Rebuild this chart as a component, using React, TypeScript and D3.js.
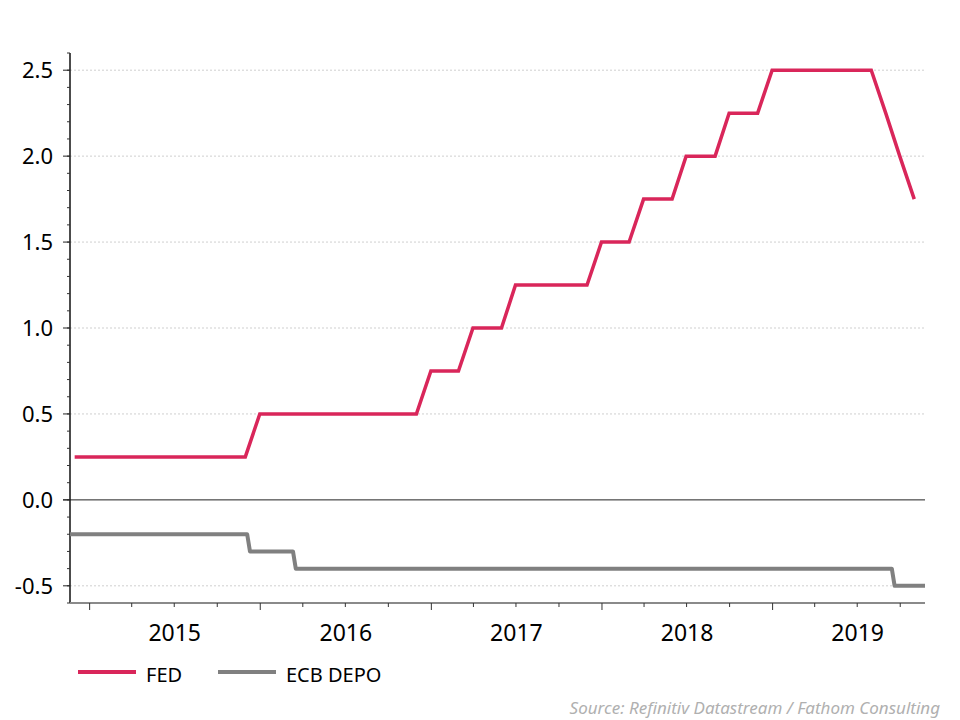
// Policy rates chart: FED vs ECB deposit rate
import React from 'react';
import * as d3 from 'd3';

const fedDates = [
  '2014-11-30', '2015-11-30', '2015-12-31', '2016-11-30', '2016-12-31',
  '2017-02-28', '2017-03-31', '2017-05-31', '2017-06-30', '2017-11-30',
  '2017-12-31', '2018-02-28', '2018-03-31', '2018-05-31', '2018-06-30',
  '2018-08-31', '2018-09-30', '2018-11-30', '2018-12-31', '2019-07-31',
  '2019-08-31', '2019-09-30', '2019-10-31',
];
const fedValues = [
  0.25, 0.25, 0.5, 0.5, 0.75,
  0.75, 1.0, 1.0, 1.25, 1.25,
  1.5, 1.5, 1.75, 1.75, 2.0,
  2.0, 2.25, 2.25, 2.5, 2.5,
  2.25, 2.0, 1.75,
];

const ecbDates = [
  '2014-11-20', '2015-12-04', '2015-12-10', '2016-03-11', '2016-03-17',
  '2019-09-13', '2019-09-19', '2019-11-23',
];
const ecbValues = [-0.2, -0.2, -0.3, -0.3, -0.4, -0.4, -0.5, -0.5];

const yTicks = [-0.5, 0, 0.5, 1.0, 1.5, 2.0, 2.5];
const yearLabels = ['2015', '2016', '2017', '2018', '2019'];

const FED_COLOR = '#d9265a';
const ECB_COLOR = '#808080';
const FONT = '"Noto Sans", "Open Sans", sans-serif';

const parse = d3.utcParse('%Y-%m-%d');

const App: React.FC = () => {
  const width = 960;
  const height = 720;
  const margin = { top: 53, right: 35, bottom: 117, left: 70 };

  const x = d3.scaleUtc()
    .domain([parse('2014-11-20')!, parse('2019-11-23')!])
    .range([margin.left, width - margin.right]);

  const y = d3.scaleLinear()
    .domain([-0.6, 2.6])
    .range([height - margin.bottom, margin.top]);

  const line = d3.line<[Date, number]>()
    .x((d) => x(d[0]))
    .y((d) => y(d[1]));

  const fed: [Date, number][] = fedDates.map((d, i) => [parse(d)!, fedValues[i]]);
  const ecb: [Date, number][] = ecbDates.map((d, i) => [parse(d)!, ecbValues[i]]);

  const [x0, x1] = x.range();
  const yBottom = y.range()[0];
  const yTop = y.range()[1];

  const minorY = d3.range(-6, 27).map((v) => v / 10);
  const quarters = d3.utcMonth.every(3)!.range(x.domain()[0], x.domain()[1]);

  return (
    <svg width={width} height={height} style={{ position: 'absolute', left: 0, top: 0 }}
      fontFamily={FONT}>
      <rect width={width} height={height} fill="white" />

      {/* grid */}
      {yTicks.filter((t) => t !== 0).map((t) => (
        <line key={'g' + t} x1={x0} x2={x1 - 1} y1={y(t)} y2={y(t)}
          stroke="#cfcfcf" strokeWidth={1} strokeDasharray="2,2" />
      ))}

      {/* zero line */}
      <line x1={x0 - 7} x2={x1} y1={y(0)} y2={y(0)} stroke="#222" strokeWidth={1} />

      {/* y axis */}
      <line x1={x0} x2={x0} y1={yTop} y2={yBottom} stroke="#111" strokeWidth={1.5} />
      {minorY.map((t) => (
        <line key={'m' + t} x1={x0 - 3} x2={x0} y1={y(t)} y2={y(t)} stroke="#333" strokeWidth={1} />
      ))}
      {yTicks.map((t) => (
        <g key={'y' + t}>
          <line x1={x0 - 7} x2={x0} y1={y(t)} y2={y(t)} stroke="#222" strokeWidth={1} />
          <text x={53} y={y(t)} dy="0.36em" textAnchor="end" fontSize={22} fill="#000">
            {t.toFixed(1)}
          </text>
        </g>
      ))}

      {/* x axis */}
      <line x1={x0} x2={x1} y1={yBottom} y2={yBottom} stroke="#8a8a8a" strokeWidth={2} />
      {quarters.map((q) => {
        const major = q.getUTCMonth() === 0;
        return (
          <line key={q.toISOString()} x1={x(q)} x2={x(q)} y1={yBottom}
            y2={yBottom + (major ? 7 : 4)} stroke="#333" strokeWidth={1} />
        );
      })}
      {yearLabels.map((yr) => (
        <text key={yr} x={x(parse(`${yr}-07-02`)!)} y={641} textAnchor="middle"
          fontSize={23} fill="#000">
          {yr}
        </text>
      ))}

      {/* series */}
      <path d={line(ecb)!} fill="none" stroke={ECB_COLOR} strokeWidth={4} strokeLinejoin="round" />
      <path d={line(fed)!} fill="none" stroke={FED_COLOR} strokeWidth={3.5} strokeLinejoin="miter" />

      {/* legend */}
      <line x1={78} x2={136} y1={672} y2={672} stroke={FED_COLOR} strokeWidth={4} />
      <text x={146} y={682} fontSize={20} fill="#000">FED</text>
      <line x1={218} x2={276} y1={672} y2={672} stroke={ECB_COLOR} strokeWidth={4} />
      <text x={286} y={682} fontSize={20} fill="#000">ECB DEPO</text>

      {/* source */}
      <text x={940} y={714} textAnchor="end" fontSize={17} fontStyle="italic" fill="#b0b0b0">
        Source: Refinitiv Datastream / Fathom Consulting
      </text>
    </svg>
  );
};

export default App;
